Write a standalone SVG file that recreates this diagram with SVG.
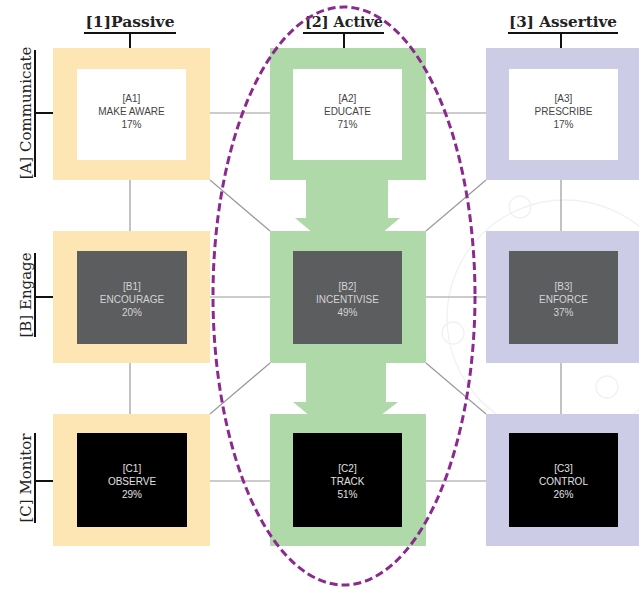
<svg xmlns="http://www.w3.org/2000/svg" width="639" height="589" viewBox="0 0 639 589">
<style>
.hd{font-family:"DejaVu Serif","Liberation Serif",serif;font-size:15px;font-weight:bold;fill:#222;}
.rl{font-family:"DejaVu Serif","Liberation Serif",serif;font-size:15px;fill:#222;}
.ax{stroke:#111;stroke-width:2;fill:none;}
.cn{stroke:#9a9a9a;stroke-width:1.2;fill:none;}
.p1{fill:#fde5b4;}
.p2{fill:#b0d9a9;}
.p3{fill:#cdcce6;}
.wi{fill:#ffffff;}
.gi{fill:#5c5d5f;}
.bi{fill:#000000;}
.t{font-family:"Liberation Sans",Arial,sans-serif;font-size:10px;text-anchor:middle;}
.tw{fill:#444;}
.tg{fill:#d4d4d4;}
.tb{fill:#e0e0e0;}
.bg{fill:none;stroke:#f1f1f1;stroke-width:1.3;}
</style>

<g id="background">
  <circle class="bg" cx="565" cy="318" r="118"/>
  <circle class="bg" cx="520" cy="207" r="11"/>
  <circle class="bg" cx="453" cy="333" r="11"/>
  <circle class="bg" cx="607" cy="387" r="11"/>
</g>

<g id="axes">
  <g id="col1-head">
    <text class="hd" x="130" y="27" text-anchor="middle" textLength="89" lengthAdjust="spacingAndGlyphs">[1]Passive</text>
    <line class="ax" x1="84" y1="33" x2="176" y2="33"/>
    <line class="ax" x1="130" y1="33" x2="130" y2="48"/>
  </g>
  <g id="col2-head">
    <text class="hd" x="344" y="27" text-anchor="middle" textLength="78" lengthAdjust="spacingAndGlyphs">[2] Active</text>
    <line class="ax" x1="303" y1="33" x2="384" y2="33"/>
    <line class="ax" x1="344" y1="33" x2="344" y2="48"/>
  </g>
  <g id="col3-head">
    <text class="hd" x="563" y="27" text-anchor="middle" textLength="108" lengthAdjust="spacingAndGlyphs">[3] Assertive</text>
    <line class="ax" x1="508" y1="33" x2="618" y2="33"/>
    <line class="ax" x1="561" y1="33" x2="561" y2="48"/>
  </g>
  <g id="rowA-head">
    <text class="rl" transform="translate(31,113) rotate(-90)" text-anchor="middle">[A]  Communicate</text>
    <line class="ax" x1="35" y1="50" x2="35" y2="177"/>
    <line class="ax" x1="35" y1="113" x2="53" y2="113"/>
  </g>
  <g id="rowB-head">
    <text class="rl" transform="translate(31,295) rotate(-90)" text-anchor="middle">[B]  Engage</text>
    <line class="ax" x1="35" y1="253" x2="35" y2="337"/>
    <line class="ax" x1="35" y1="297" x2="53" y2="297"/>
  </g>
  <g id="rowC-head">
    <text class="rl" transform="translate(31,478) rotate(-90)" text-anchor="middle">[C]  Monitor</text>
    <line class="ax" x1="35" y1="433" x2="35" y2="523"/>
    <line class="ax" x1="35" y1="481" x2="53" y2="481"/>
  </g>
</g>

<g id="connectors">
  <line class="cn" x1="210" y1="113" x2="270" y2="113"/>
  <line class="cn" x1="426" y1="113" x2="486" y2="113"/>
  <line class="cn" x1="210" y1="297" x2="270" y2="297"/>
  <line class="cn" x1="426" y1="297" x2="486" y2="297"/>
  <line class="cn" x1="210" y1="481" x2="270" y2="481"/>
  <line class="cn" x1="426" y1="481" x2="486" y2="481"/>
  <line class="cn" x1="130" y1="180" x2="130" y2="231"/>
  <line class="cn" x1="130" y1="363" x2="130" y2="414"/>
  <line class="cn" x1="561" y1="180" x2="561" y2="231"/>
  <line class="cn" x1="561" y1="363" x2="561" y2="414"/>
  <line class="cn" x1="210" y1="180" x2="270" y2="231"/>
  <line class="cn" x1="486" y1="180" x2="426" y2="231"/>
  <line class="cn" x1="270" y1="363" x2="210" y2="414"/>
  <line class="cn" x1="426" y1="363" x2="486" y2="414"/>
  <polygon class="p2" points="306,178 388,178 388,218 400,218 382,233 313,233 295,218 306,218"/>
  <polygon class="p2" points="306,361 386,361 386,402 398,402 380,416 310,416 293,402 306,402"/>
</g>

<g id="A1">
  <rect class="p1" x="53" y="48" width="157" height="132"/>
  <rect class="wi" x="77" y="69" width="109" height="91"/>
  <text class="t tw" x="131.5" y="102">[A1]</text>
  <text class="t tw" x="131.5" y="115">MAKE AWARE</text>
  <text class="t tw" x="131.5" y="128">17%</text>
</g>
<g id="A2">
  <rect class="p2" x="270" y="48" width="156" height="132"/>
  <rect class="wi" x="293" y="69" width="109" height="91"/>
  <text class="t tw" x="347.5" y="102">[A2]</text>
  <text class="t tw" x="347.5" y="115">EDUCATE</text>
  <text class="t tw" x="347.5" y="128">71%</text>
</g>
<g id="A3">
  <rect class="p3" x="486" y="48" width="160" height="132"/>
  <rect class="wi" x="509" y="69" width="109" height="91"/>
  <text class="t tw" x="563.5" y="102">[A3]</text>
  <text class="t tw" x="563.5" y="115">PRESCRIBE</text>
  <text class="t tw" x="563.5" y="128">17%</text>
</g>

<g id="B1">
  <rect class="p1" x="53" y="231" width="157" height="132"/>
  <rect class="gi" x="77" y="251" width="110" height="93"/>
  <text class="t tg" x="132" y="290">[B1]</text>
  <text class="t tg" x="132" y="303">ENCOURAGE</text>
  <text class="t tg" x="132" y="316">20%</text>
</g>
<g id="B2">
  <rect class="p2" x="270" y="231" width="156" height="132"/>
  <rect class="gi" x="293" y="251" width="109" height="93"/>
  <text class="t tg" x="347.5" y="290">[B2]</text>
  <text class="t tg" x="347.5" y="303">INCENTIVISE</text>
  <text class="t tg" x="347.5" y="316">49%</text>
</g>
<g id="B3">
  <rect class="p3" x="486" y="231" width="160" height="132"/>
  <rect class="gi" x="509" y="251" width="109" height="93"/>
  <text class="t tg" x="563.5" y="290">[B3]</text>
  <text class="t tg" x="563.5" y="303">ENFORCE</text>
  <text class="t tg" x="563.5" y="316">37%</text>
</g>

<g id="C1">
  <rect class="p1" x="53" y="414" width="157" height="132"/>
  <rect class="bi" x="77" y="433" width="110" height="94"/>
  <text class="t tb" x="132" y="472">[C1]</text>
  <text class="t tb" x="132" y="485">OBSERVE</text>
  <text class="t tb" x="132" y="498">29%</text>
</g>
<g id="C2">
  <rect class="p2" x="270" y="414" width="156" height="132"/>
  <rect class="bi" x="293" y="433" width="109" height="94"/>
  <text class="t tb" x="347.5" y="472">[C2]</text>
  <text class="t tb" x="347.5" y="485">TRACK</text>
  <text class="t tb" x="347.5" y="498">51%</text>
</g>
<g id="C3">
  <rect class="p3" x="486" y="414" width="160" height="132"/>
  <rect class="bi" x="509" y="433" width="109" height="94"/>
  <text class="t tb" x="563.5" y="472">[C3]</text>
  <text class="t tb" x="563.5" y="485">CONTROL</text>
  <text class="t tb" x="563.5" y="498">26%</text>
</g>

<g id="highlight">
  <ellipse cx="344" cy="296" rx="131" ry="289" fill="none" stroke="#8b2a8e" stroke-width="3" stroke-dasharray="8,4"/>
</g>
</svg>
